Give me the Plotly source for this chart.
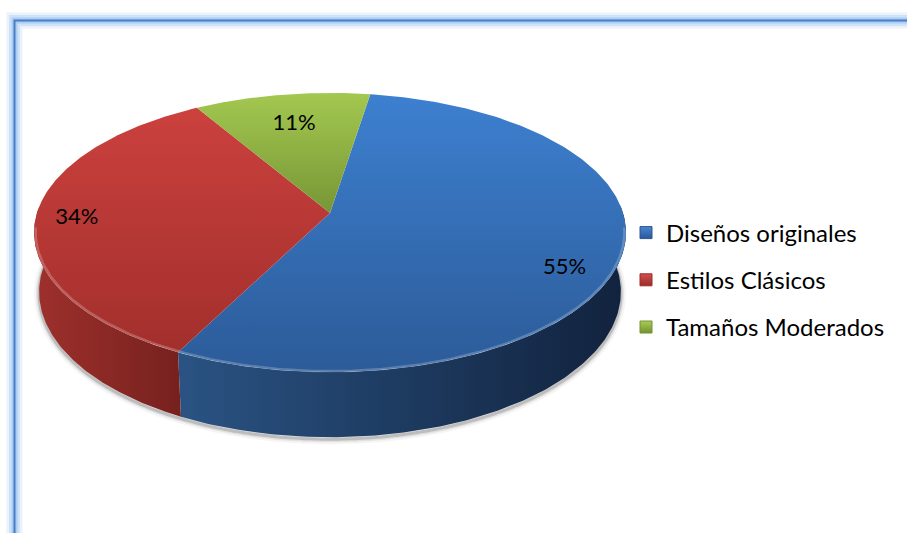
import numpy as np
import plotly.graph_objects as go

# Data
categories = ["Diseños originales", "Estilos Clásicos", "Tamaños Moderados"]
values = [55, 34, 11]
labels = [f"{v}%" for v in values]

# Colours: top face gradient (bottom -> top), side gradient (left -> right), legend swatch
top_colors = [("#2c5b98", "#3d80d0"), ("#a22f2c", "#cb413e"), ("#779636", "#a3c850")]
side_colors = [("#2a5383", "#11223d"), ("#9e302c", "#76211e"), ("#7e9c3a", "#5c742a")]
swatch_colors = [("#4a86d4", "#2a5796"), ("#d0504c", "#9c2c29"), ("#a8cc58", "#73922f")]

# Perspective pie geometry (screen pixels)
CX, CY = 330.0, 213.0        # projected centre of the pie
FOCAL = 1855.0
DIST = 6.33
TILT = np.radians(27.84)
THICK = 0.231
START = 81.0                 # first slice starts here, slices go clockwise
label_r = [0.85, 0.86, 0.72]
label_dt = [-9.0, 1.0, 0.0]

S, C = np.sin(TILT), np.cos(TILT)


def proj(t_deg, r=1.0, z=0.0):
    t = np.radians(np.asarray(t_deg, dtype=float))
    X = r * np.cos(t)
    Y = r * np.sin(t)
    depth = DIST + Y * C - z * S
    up = Y * S + z * C
    return CX + FOCAL * X / depth, CY - FOCAL * up / depth


total = float(sum(values))
angles = []
a = START
for v in values:
    b = a - 360.0 * v / total
    angles.append((a, b))
    a = b

fig = go.Figure()

# soft shadow under the front rim
t_front = np.linspace(172, 368, 200)
sx, sy = proj(t_front, 1.0, -THICK)
for w, op in [(10, 0.05), (6, 0.10), (3, 0.22)]:
    fig.add_trace(go.Scatter(x=sx, y=sy + 2, mode="lines",
                             line=dict(color=f"rgba(60,60,60,{op})", width=w, shape="spline"),
                             hoverinfo="skip", showlegend=False))

# side walls (front half only)
for i, (a, b) in enumerate(angles):
    t = np.linspace(a, b, 240)
    t = t[np.sin(np.radians(t)) <= 0.06]
    if len(t) < 2:
        continue
    tx, ty = proj(t, 1.0, 0.0)
    bx, by = proj(t[::-1], 1.0, -THICK)
    px = np.concatenate([tx, bx, tx[:1]])
    py = np.concatenate([ty, by, ty[:1]])
    fig.add_trace(go.Scatter(
        x=px, y=py, mode="lines", fill="toself", line=dict(width=0),
        fillgradient=dict(type="horizontal",
                          colorscale=[[0, side_colors[i][0]], [1, side_colors[i][1]]]),
        hoverinfo="skip", showlegend=False))

# top faces
for i, (a, b) in enumerate(angles):
    t = np.linspace(a, b, 240)
    ax, ay = proj(t, 1.0, 0.0)
    px = np.concatenate([[CX], ax, [CX]])
    py = np.concatenate([[CY], ay, [CY]])
    fig.add_trace(go.Scatter(
        x=px, y=py, mode="lines", fill="toself", line=dict(width=0),
        fillgradient=dict(type="vertical",
                          colorscale=[[0, top_colors[i][0]], [1, top_colors[i][1]]]),
        hoverinfo="skip", showlegend=False))

# bevel highlight on the front edge of the top face
hx, hy = proj(np.linspace(186, 354, 200), 0.995, 0.0)
fig.add_trace(go.Scatter(x=hx, y=hy, mode="lines",
                         line=dict(color="rgba(255,255,255,0.22)", width=2.5),
                         hoverinfo="skip", showlegend=False))

# percentage labels
lx, ly = [], []
for i, (a, b) in enumerate(angles):
    x, y = proj((a + b) / 2 + label_dt[i], label_r[i], 0.0)
    lx.append(float(x))
    ly.append(float(y))
fig.add_trace(go.Scatter(x=lx, y=ly, mode="text", text=labels,
                         textfont=dict(family="Lato", size=22, color="#000000"),
                         hoverinfo="skip", showlegend=False))

# legend entries
for i, cat in enumerate(categories):
    fig.add_trace(go.Scatter(
        x=[None], y=[None], mode="markers", name=cat, legendgroup=cat,
        marker=dict(symbol="square", size=12, color=swatch_colors[i][0],
                    gradient=dict(type="vertical", color=swatch_colors[i][1]),
                    line=dict(color=swatch_colors[i][1], width=1))))

# chart-area frame with a soft blue glow
frame = []
for w, col in [(16, "rgba(170,205,245,0.25)"), (11, "rgba(160,198,242,0.35)"),
               (6, "rgba(140,185,238,0.55)"), (2, "#4a7ec6")]:
    frame.append(dict(type="rect", xref="x", yref="y", x0=14.5, y0=20.5, x1=1100, y1=800,
                      line=dict(color=col, width=w), fillcolor="rgba(0,0,0,0)", layer="below"))

fig.update_layout(
    width=907, height=533,
    margin=dict(l=0, r=0, t=0, b=0),
    paper_bgcolor="white", plot_bgcolor="white",
    xaxis=dict(range=[0, 907], visible=False, fixedrange=True),
    yaxis=dict(range=[533, 0], visible=False, fixedrange=True),
    shapes=frame,
    showlegend=True,
    legend=dict(x=626 / 907, y=1 - 210.5 / 533, xanchor="left", yanchor="top",
                font=dict(family="Lato", size=24, color="#000000"),
                tracegroupgap=13, bgcolor="rgba(0,0,0,0)", itemclick=False,
                itemdoubleclick=False),
)

fig.write_html("out.html")
